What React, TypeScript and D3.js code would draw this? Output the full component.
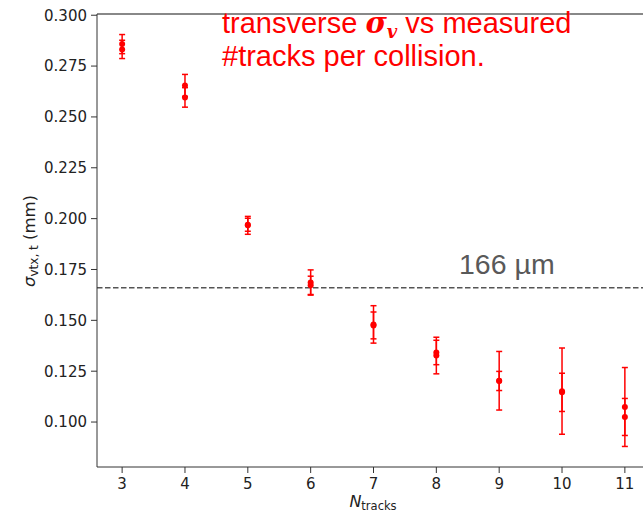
import React from "react";
import * as d3 from "d3";

const nTracks = [3, 4, 5, 6, 7, 8, 9, 10, 11];
const sigmaA = [0.2858, 0.2655, 0.1967, 0.1686, 0.148, 0.1327, 0.1203, 0.1152, 0.1074];
const errA = [0.0047, 0.0054, 0.0044, 0.0062, 0.0092, 0.009, 0.0144, 0.0212, 0.0194];
const sigmaB = [0.2832, 0.2596, 0.197, 0.1672, 0.1475, 0.1342, 0.1202, 0.1146, 0.1025];
const errB = [0.0045, 0.0048, 0.0032, 0.0045, 0.0066, 0.006, 0.0047, 0.0094, 0.0091];
const xTicks = [3, 4, 5, 6, 7, 8, 9, 10, 11];
const yTicks = [0.1, 0.125, 0.15, 0.175, 0.2, 0.225, 0.25, 0.275, 0.3];
const refLine = 0.166;
const refLabel = "166 µm";

const W = 643;
const H = 514;

export default function App() {
  const x = d3.scaleLinear().domain([2.6, 11.4]).range([97, 650]);
  const y = d3.scaleLinear().domain([0.0779, 0.3006]).range([467, 14]);
  const red = "#ff0000";
  const tickFont = "DejaVu Sans, sans-serif";

  const series = [
    { v: sigmaA, e: errA },
    { v: sigmaB, e: errB },
  ];

  return (
    <svg
      width={W}
      height={H}
      style={{ position: "absolute", left: 0, top: 0, background: "#fff" }}
      xmlns="http://www.w3.org/2000/svg"
    >
      <rect x={0} y={0} width={W} height={H} fill="#fff" />
      {/* reference line */}
      <line
        x1={97}
        x2={650}
        y1={y(refLine)}
        y2={y(refLine)}
        stroke="#555"
        strokeWidth={1.5}
        strokeDasharray="5.5,2.5"
      />
      <text
        x={459}
        y={274}
        fontFamily="Liberation Sans, Arial, sans-serif"
        fontSize={28.5}
        fill="#595959"
      >
        {refLabel}
      </text>

      {/* data */}
      {series.map((s, si) => (
        <g key={si}>
          {nTracks.map((n, i) => {
            const cx = x(n);
            const top = y(s.v[i] + s.e[i]);
            const bot = y(s.v[i] - s.e[i]);
            return (
              <g key={i} stroke={red} strokeWidth={1.5}>
                <line x1={cx} x2={cx} y1={top} y2={bot} />
                <line x1={cx - 3} x2={cx + 3} y1={top} y2={top} />
                <line x1={cx - 3} x2={cx + 3} y1={bot} y2={bot} />
              </g>
            );
          })}
          {nTracks.map((n, i) => (
            <circle key={"c" + i} cx={x(n)} cy={y(s.v[i])} r={3} fill={red} />
          ))}
        </g>
      ))}

      {/* spines */}
      <line x1={97} x2={643} y1={14} y2={14} stroke="#888" strokeWidth={2} />
      <line x1={97} x2={97} y1={14} y2={467} stroke="#333" strokeWidth={1} />
      <line x1={97} x2={650} y1={467} y2={467} stroke="#333" strokeWidth={1} />

      {/* y ticks */}
      {yTicks.map((t) => (
        <g key={t}>
          <line x1={91} x2={97} y1={y(t)} y2={y(t)} stroke="#333" strokeWidth={1} />
          <text
            x={87}
            y={y(t)}
            dy="0.36em"
            textAnchor="end"
            fontFamily={tickFont}
            fontSize={15}
            fill="#222"
          >
            {d3.format(".3f")(t)}
          </text>
        </g>
      ))}

      {/* x ticks */}
      {xTicks.map((t) => (
        <g key={t}>
          <line x1={x(t)} x2={x(t)} y1={467} y2={473} stroke="#333" strokeWidth={1} />
          <text
            x={x(t)}
            y={489}
            textAnchor="middle"
            fontFamily={tickFont}
            fontSize={15}
            fill="#222"
          >
            {t}
          </text>
        </g>
      ))}

      {/* x label */}
      <text
        x={373}
        y={507}
        textAnchor="middle"
        fontFamily={tickFont}
        fontSize={16}
        fill="#222"
      >
        <tspan fontStyle="italic">N</tspan>
        <tspan fontSize={11.5} dy={3}>tracks</tspan>
      </text>

      {/* y label */}
      <text
        transform="translate(35,241) rotate(-90)"
        textAnchor="middle"
        fontFamily={tickFont}
        fontSize={16.5}
        fill="#222"
      >
        <tspan fontStyle="italic">σ</tspan>
        <tspan fontSize={12} dy={3}>vtx, t</tspan>
        <tspan dy={-3}> (mm)</tspan>
      </text>

      {/* title */}
      <text
        x={222}
        y={33}
        fontFamily="Liberation Sans, Arial, sans-serif"
        fontSize={29}
        fill={red}
      >
        transverse{" "}
        <tspan fontFamily="DejaVu Serif, serif" fontWeight="bold" fontStyle="italic">
          σ
        </tspan>
        <tspan
          fontFamily="DejaVu Serif, serif"
          fontWeight="bold"
          fontStyle="italic"
          fontSize={18}
          dy={5}
        >
          v
        </tspan>
        <tspan dy={-5}> vs measured</tspan>
      </text>
      <text
        x={222}
        y={66}
        fontFamily="Liberation Sans, Arial, sans-serif"
        fontSize={29}
        fill={red}
      >
        #tracks per collision.
      </text>
    </svg>
  );
}
